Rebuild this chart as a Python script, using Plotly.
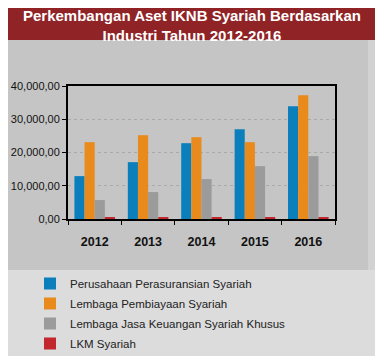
import plotly.graph_objects as go

years = ["2012", "2013", "2014", "2015", "2016"]
series_names = [
    "Perusahaan Perasuransian Syariah",
    "Lembaga Pembiayaan Syariah",
    "Lembaga Jasa Keuangan Syariah Khusus",
    "LKM Syariah",
]
asuransi = [12900, 17100, 22800, 27000, 33900]
pembiayaan = [23100, 25200, 24600, 23100, 37200]
ljk_khusus = [5700, 8100, 12000, 15900, 18900]
lkm = [500, 500, 500, 500, 500]
colors = ["#0b7fbb", "#e98a1c", "#9b9b9b", "#c1272d"]

y_tickvals = [0, 10000, 20000, 30000, 40000]
y_ticktext = ["0,00", "10,000,00", "20,000,00", "30,000,00", "40,000,00"]

title_text = "<b>Perkembangan Aset IKNB Syariah Berdasarkan<br>Industri Tahun 2012-2016</b>"

# page body has an 8px default margin
OFF = 8
W, H = 383 - OFF, 359 - OFF
L, R, T, B = 68 - OFF, 48, 86 - OFF, 140
pw, ph = W - L - R, H - T - B


def px(x):
    return (x - OFF - L) / pw


def py(y):
    return (H - B - (y - OFF)) / ph


fig = go.Figure()
for i, (name, vals, c) in enumerate(zip(series_names, [asuransi, pembiayaan, ljk_khusus, lkm], colors)):
    fig.add_trace(go.Bar(x=years, y=vals, name=name, legendgroup="g%d" % i,
                         marker=dict(color=c, line=dict(width=0))))

shapes = [
    dict(type="rect", xref="paper", yref="paper", x0=px(5), x1=px(368), y0=py(270), y1=py(40),
         fillcolor="#c5c5c5", line=dict(width=0), layer="below"),
    dict(type="rect", xref="paper", yref="paper", x0=px(368), x1=px(383), y0=py(270), y1=py(40),
         fillcolor="#d2d2d2", line=dict(width=0), layer="below"),
    dict(type="rect", xref="paper", yref="paper", x0=px(5), x1=px(383), y0=py(356), y1=py(270),
         fillcolor="#dcdcdc", line=dict(width=0), layer="below"),
    dict(type="rect", xref="paper", yref="paper", x0=px(5), x1=px(383), y0=py(40), y1=py(0),
         fillcolor="#8f2326", line=dict(width=0), layer="below"),
]

fig.update_layout(
    width=W, height=H,
    margin=dict(l=L, r=R, t=T, b=B, autoexpand=False),
    paper_bgcolor="white",
    plot_bgcolor="white",
    barmode="group",
    bargap=0.24,
    bargroupgap=0.0,
    shapes=shapes,
    font=dict(family="Liberation Sans, Arial, sans-serif", color="#111111"),
    annotations=[dict(text=title_text, xref="paper", yref="paper", x=px(192), y=py(5),
                      xanchor="center", yanchor="top", showarrow=False,
                      font=dict(size=15, color="white", family="Liberation Sans, Arial, sans-serif"))],
    legend=dict(x=px(30), y=py(269), xanchor="left", yanchor="top",
                font=dict(size=11.5, color="#222222"), bgcolor="rgba(0,0,0,0)",
                tracegroupgap=1, itemsizing="constant"),
    showlegend=True,
)
fig.update_xaxes(
    type="category", showline=True, linecolor="black", linewidth=2, mirror=True,
    ticks="outside", tickson="boundaries", ticklen=4, tickcolor="black",
    tickfont=dict(size=12.5, family="Liberation Sans, Arial, sans-serif", color="#111"),
    ticklabelstandoff=10, automargin=False,
    tickvals=years, ticktext=["<b>%s</b>" % y for y in years],
)
fig.update_yaxes(
    range=[0, 40000], tickvals=y_tickvals, ticktext=y_ticktext,
    showline=True, linecolor="black", linewidth=2, mirror=True,
    ticks="outside", ticklen=4, tickcolor="black",
    showgrid=True, gridcolor="#aaaaaa", griddash="dot", gridwidth=1,
    zeroline=False, automargin=False,
    tickfont=dict(size=11, color="#111"),
)

fig.write_html("out.html")
